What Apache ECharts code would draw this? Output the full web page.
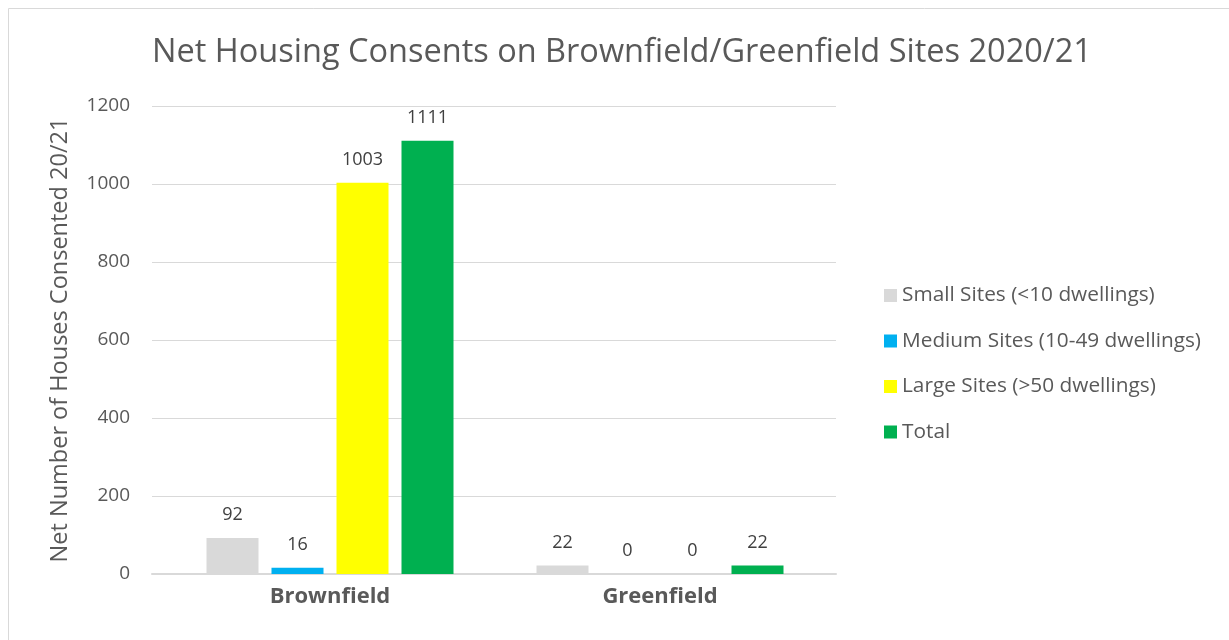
<!DOCTYPE html>
<html><head><meta charset="utf-8">
<script src="https://cdn.jsdelivr.net/npm/echarts@6/dist/echarts.min.js"></script>
<style>html,body{margin:0;padding:0;background:#fff}#c{width:1229px;height:640px}</style>
</head><body><div id="c"></div>
<script>
const categories = ['Brownfield', 'Greenfield'];
const seriesNames = ['Small Sites (<10 dwellings)', 'Medium Sites (10-49 dwellings)', 'Large Sites (>50 dwellings)', 'Total'];
const smallSites = [92, 22];
const mediumSites = [16, 0];
const largeSites = [1003, 0];
const totalSites = [1111, 22];
const yTicks = [0, 200, 400, 600, 800, 1000, 1200];
const colors = ['#D9D9D9', '#00B0F0', '#FFFF00', '#00B050'];

const font = 'Open Sans';
const chart = echarts.init(document.getElementById('c'));
const values = [smallSites, mediumSites, largeSites, totalSites];
const yMin = yTicks[0], yMax = yTicks[yTicks.length - 1], yStep = yTicks[1] - yTicks[0];
chart.setOption({
  animation: false,
  textStyle: { fontFamily: font },
  graphic: [{ type: 'rect', shape: { x: 8.5, y: 8.5, width: 1240, height: 700 }, style: { fill: 'none', stroke: '#D9D9D9', lineWidth: 1 }, silent: true }],
  title: {
    text: 'Net Housing Consents on Brownfield/Greenfield Sites 2020/21',
    left: 617, textAlign: 'center', top: 31,
    textStyle: { fontFamily: font, fontSize: 32.5, fontWeight: 'normal', color: '#595959' }
  },
  legend: {
    orient: 'vertical', left: 879, top: 280,
    itemWidth: 13, itemHeight: 13, itemGap: 24.5, icon: 'rect',
    textStyle: { fontFamily: font, fontSize: 20.8, color: '#595959', lineHeight: 20 },
    data: seriesNames
  },
  grid: [
    { left: 152, right: 393, top: 106, bottom: 66, containLabel: false },
    { left: 165, right: 404, top: 106, bottom: 66, containLabel: false }
  ],
  xAxis: [
    { type: 'category', gridIndex: 0, data: categories,
      axisLine: { lineStyle: { color: '#D9D9D9', width: 2 } },
      axisTick: { show: false }, axisLabel: { show: false } },
    { type: 'category', gridIndex: 1, data: categories,
      axisLine: { show: false }, axisTick: { show: false },
      axisLabel: { fontFamily: font, fontSize: 22, fontWeight: 'bold', color: '#595959', margin: 12 } }
  ],
  yAxis: [
    { type: 'value', gridIndex: 0, min: yMin, max: yMax, interval: yStep,
      name: 'Net Number of Houses Consented 20/21', nameLocation: 'middle', nameGap: 80, nameRotate: 90,
      nameTextStyle: { fontFamily: font, fontSize: 23.5, color: '#595959' },
      axisLine: { show: false }, axisTick: { show: false },
      axisLabel: { fontFamily: font, fontSize: 19, color: '#595959', margin: 22, formatter: v => String(v) },
      splitLine: { lineStyle: { color: '#D9D9D9', width: 1 } } },
    { type: 'value', gridIndex: 1, min: yMin, max: yMax, interval: yStep,
      axisLine: { show: false }, axisTick: { show: false }, axisLabel: { show: false }, splitLine: { show: false } }
  ],
  series: seriesNames.map((n, i) => ({
    name: n, type: 'bar', xAxisIndex: 1, yAxisIndex: 1, data: values[i], barWidth: 52, barGap: '25%',
    itemStyle: { color: colors[i] },
    label: { show: true, position: 'top', distance: 14, fontFamily: font, fontSize: 18, color: '#404040' }
  }))
});
</script></body></html>
